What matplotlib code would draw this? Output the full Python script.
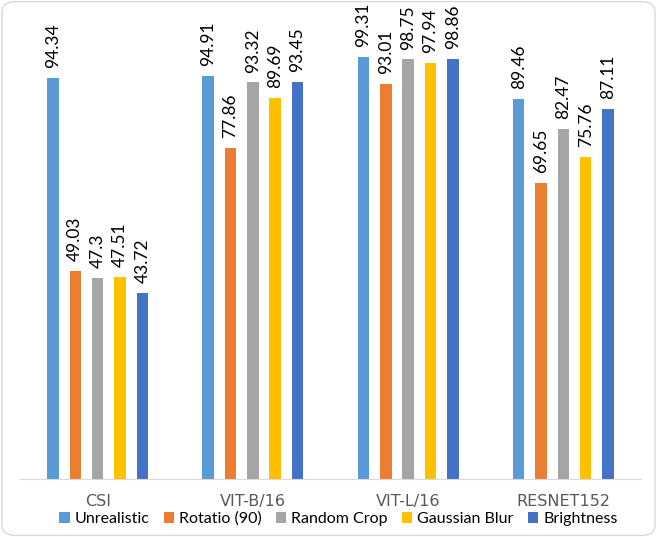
import numpy as np
import matplotlib.pyplot as plt
from matplotlib.patches import FancyBboxPatch

plt.rcParams['font.family'] = ['Lato', 'DejaVu Sans']

models = ['CSI', 'VIT-B/16', 'VIT-L/16', 'RESNET152']
series = ['Unrealistic', 'Rotatio (90)', 'Random Crop', 'Gaussian Blur', 'Brightness']
unrealistic = [94.34, 94.91, 99.31, 89.46]
rotation = [49.03, 77.86, 93.01, 69.65]
random_crop = [47.3, 93.32, 98.75, 82.47]
gaussian_blur = [47.51, 89.69, 97.94, 75.76]
brightness = [43.72, 93.45, 98.86, 87.11]
colors = ['#5B9BD5', '#ED7D31', '#A5A5A5', '#FFC000', '#4472C4']

fig = plt.figure(figsize=(6.57, 5.37), dpi=100)
ax = fig.add_axes([20 / 657, 58 / 537, 621 / 657, 425 / 537])

x = np.arange(len(models))
step = 0.144
width = 0.074
for i, (name, vals) in enumerate(zip(series, [unrealistic, rotation, random_crop,
                                               gaussian_blur, brightness])):
    pos = x + (i - 2) * step
    ax.bar(pos, vals, width, color=colors[i], label=name)
    for p, v in zip(pos, vals):
        ax.annotate(f'{v:g}', (p, v), xytext=(0, 7), textcoords='offset points',
                    rotation=90, ha='center', va='bottom', fontsize=12.5,
                    color='#000000')

ax.set_xlim(-0.5, 3.5)
ax.set_ylim(0, 100)
ax.set_xticks(x)
ax.set_xticklabels(models, fontsize=11.5, color='#595959', family='DejaVu Sans')
ax.tick_params(axis='x', length=0, pad=11)
ax.set_yticks([])
for s in ['top', 'right', 'left']:
    ax.spines[s].set_visible(False)
ax.spines['bottom'].set_color('#D9D9D9')
ax.patch.set_alpha(0)

fig.legend(loc='lower center', bbox_to_anchor=(0.515, 0.0), ncol=5, frameon=False,
           fontsize=11.5, handlelength=0.65, handleheight=0.65, handletextpad=0.3,
           columnspacing=0.9, borderaxespad=0.3)

fig.patches.append(FancyBboxPatch((0.003, 0.003), 0.994, 0.994,
                                  boxstyle='round,pad=0,rounding_size=0.02',
                                  transform=fig.transFigure, fill=False,
                                  edgecolor='#D9D9D9', linewidth=1))

fig.savefig('out.png', dpi=100)
